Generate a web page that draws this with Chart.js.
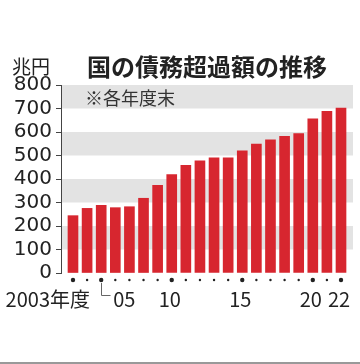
<!DOCTYPE html>
<html lang="ja">
<head>
<meta charset="utf-8">
<title>国の債務超過額の推移</title>
<script src="https://cdn.jsdelivr.net/npm/chart.js@4"></script>
<style>
  html, body { margin: 0; padding: 0; background: #fff; }
  #wrap { width: 360px; height: 364px; }
</style>
</head>
<body>
<div id="wrap"><canvas id="debtChart" width="360" height="364"></canvas></div>
<script>
// --- data ---
var years = [2003, 2004, 2005, 2006, 2007, 2008, 2009, 2010, 2011, 2012,
             2013, 2014, 2015, 2016, 2017, 2018, 2019, 2020, 2021, 2022];
var debt = [244, 275, 288, 278, 282, 318, 373, 419, 458, 477,
            490, 490, 520, 549, 567, 582, 593, 656, 688, 702];
var labelYears = [2003, 2005, 2010, 2015, 2020, 2022];
var labelTexts = ['2003年度', '05', '10', '15', '20', '22'];
var bandRanges = [[100, 200], [300, 400], [500, 600], [700, 800]];

var jpFont = '"Noto Sans CJK JP", "Noto Sans", sans-serif';

// gray bands behind the bars
const bandsPlugin = {
    id: 'bands',
    beforeDatasetsDraw: function (chart) {
        var ctx = chart.ctx, area = chart.chartArea, y = chart.scales.y;
        ctx.save();
        ctx.fillStyle = '#e3e3e3';
        bandRanges.forEach(function (r) {
            var top = y.getPixelForValue(r[1]);
            var bot = y.getPixelForValue(r[0]);
            ctx.fillRect(area.left + 1, top, area.right - area.left - 1, bot - top);
        });
        ctx.restore();
    }
};

// titles, year dots and year labels
const textPlugin = {
    id: 'texts',
    afterDraw: function (chart) {
        var ctx = chart.ctx, x = chart.scales.x;
        ctx.save();
        ctx.textBaseline = 'middle';
        ctx.fillStyle = '#222';

        ctx.textAlign = 'left';
        ctx.font = '19px ' + jpFont;
        ctx.fillText('兆円', 12, 67);
        ctx.font = 'bold 24px ' + jpFont;
        ctx.fillText('国の債務超過額の推移', 87, 67);
        ctx.fillStyle = '#333';
        ctx.font = '18px ' + jpFont;
        ctx.fillText('※各年度末', 85, 98);

        // dots under each year
        var dotY = 280;
        ctx.fillStyle = '#222';
        years.forEach(function (yr) {
            var big = labelYears.indexOf(yr) >= 0;
            ctx.beginPath();
            ctx.arc(x.getPixelForValue(yr), dotY, big ? 2.2 : 1.2, 0, Math.PI * 2);
            ctx.fill();
        });

        // bracket for 05
        var p05 = Math.round(x.getPixelForValue(2005)) + 0.5;
        ctx.strokeStyle = '#666';
        ctx.lineWidth = 1;
        ctx.beginPath();
        ctx.moveTo(p05, 283);
        ctx.lineTo(p05, 295.5);
        ctx.lineTo(p05 + 9, 295.5);
        ctx.stroke();

        ctx.fillStyle = '#222';
        ctx.font = '20px ' + jpFont;
        var labY = 299;
        labelYears.forEach(function (yr, i) {
            var px = x.getPixelForValue(yr);
            if (i === 0) {
                ctx.textAlign = 'right';
                ctx.fillText(labelTexts[i], px + 17, labY);
            } else if (yr === 2005) {
                ctx.textAlign = 'left';
                ctx.fillText(labelTexts[i], px + 12, labY);
            } else {
                ctx.textAlign = 'center';
                ctx.fillText(labelTexts[i], px - 2, labY);
            }
        });

        // thin frame line at the bottom
        ctx.fillStyle = '#999';
        ctx.fillRect(0, 362, 360, 2);
        ctx.restore();
    }
};

const canvas = document.getElementById('debtChart');
new Chart(canvas.getContext('2d'), {
    type: 'bar',
    data: {
        datasets: [{
            data: years.map(function (yr, i) { return { x: yr, y: debt[i] }; }),
            backgroundColor: '#d7262f',
            borderWidth: 0,
            barThickness: 10
        }]
    },
    options: {
        responsive: false,
        animation: false,
        layout: { padding: { top: 85, bottom: 91, left: 0, right: 7 } },
        plugins: {
            legend: { display: false },
            tooltip: { enabled: false }
        },
        scales: {
            x: {
                type: 'linear',
                display: false,
                offset: false,
                grid: { offset: false },
                min: 2002.15,
                max: 2022.85
            },
            y: {
                min: 0,
                max: 800,
                afterFit: function (scale) { scale.width = 61; },
                ticks: {
                    stepSize: 100,
                    autoSkip: false,
                    padding: 4,
                    color: '#222',
                    font: { family: '"DejaVu Sans", sans-serif', size: 20 }
                },
                grid: {
                    drawOnChartArea: false,
                    drawTicks: true,
                    tickLength: 5,
                    color: '#444'
                },
                border: { display: true, color: '#444', width: 1 }
            }
        }
    },
    plugins: [bandsPlugin, textPlugin]
});
</script>
</body>
</html>
